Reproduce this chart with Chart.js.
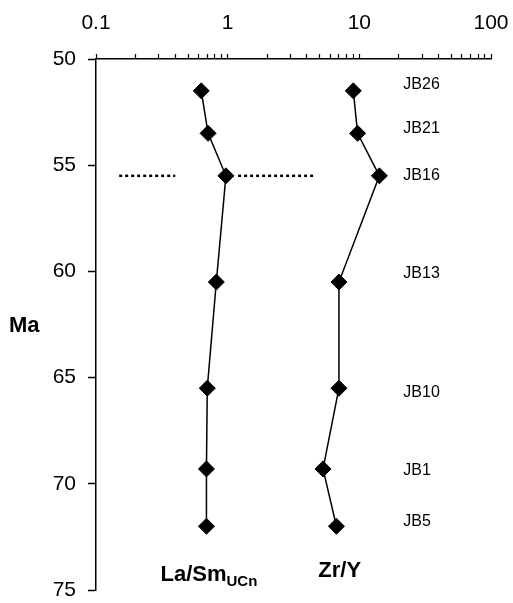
<!DOCTYPE html>
<html>
<head>
<meta charset="utf-8">
<script src="https://cdn.jsdelivr.net/npm/chart.js@4.4.0/dist/chart.umd.min.js"></script>
<style>
  html,body{margin:0;padding:0;background:#fff;}
  #wrap{width:513px;height:603px;}
</style>
</head>
<body>
<div id="wrap"><canvas id="chart" width="513" height="603"></canvas></div>
<script>
// --- Data ---
const samples   = ['JB26','JB21','JB16','JB13','JB10','JB1','JB5'];
const ageMa     = [51.5, 53.5, 55.5, 60.5, 65.5, 69.3, 72.0];
const laSmUCn   = [0.63, 0.71, 0.97, 0.82, 0.70, 0.69, 0.69];
const zrY       = [9.0, 9.7, 14.2, 7.0, 7.0, 5.3, 6.7];
const sampleLabelMa = [51.2, 53.3, 55.5, 60.1, 65.7, 69.4, 71.8];

// dotted boundary marker at ~55.5 Ma
const boundaryMa    = 55.5;
const boundaryLeft  = [0.15, 0.40];
const boundaryRight = [1.2, 4.6];

// log axis ticks
const xTicks = [0.1,0.2,0.3,0.4,0.5,0.6,0.7,0.8,0.9,
                1,2,3,4,5,6,7,8,9,
                10,20,30,40,50,60,70,80,90,100];
const xLabels = [0.1, 1, 10, 100];

const FONT = '"Liberation Sans", Arial, sans-serif';

// --- Helpers ---
const pts = (xs, ys) => xs.map((x, i) => ({ x, y: ys[i] }));
const seg = (xs, y) => xs.map(x => ({ x, y }));

// --- Text overlay (sample names, axis title, series titles) ---
const overlay = {
  id: 'overlay',
  afterDatasetsDraw(chart){
    const { ctx, scales:{ x, y } } = chart;
    ctx.save();
    ctx.fillStyle = '#000';

    // sample names
    ctx.font = `16px ${FONT}`;
    ctx.textAlign = 'left';
    ctx.textBaseline = 'middle';
    const lx = x.getPixelForValue(21.6);
    samples.forEach((s, i) => ctx.fillText(s, lx, y.getPixelForValue(sampleLabelMa[i])));

    // y axis title (horizontal)
    ctx.font = `bold 22px ${FONT}`;
    ctx.textBaseline = 'alphabetic';
    ctx.fillText('Ma', 9, 332);

    // series titles
    const main = 'La/Sm', sub = 'UCn';
    ctx.font = `bold 22px ${FONT}`;
    const w1 = ctx.measureText(main).width;
    ctx.font = `bold 15px ${FONT}`;
    const w2 = ctx.measureText(sub).width;
    let cx = x.getPixelForValue(0.72) - (w1 + w2) / 2;
    ctx.font = `bold 22px ${FONT}`;
    ctx.fillText(main, cx, 581);
    ctx.font = `bold 15px ${FONT}`;
    ctx.fillText(sub, cx + w1, 586);

    ctx.font = `bold 22px ${FONT}`;
    ctx.textAlign = 'center';
    ctx.fillText('Zr/Y', x.getPixelForValue(7.1), 577);
    ctx.restore();
  }
};

const marker = {
  type: 'scatter', showLine: true,
  borderColor: '#000', borderWidth: 1.5,
  pointStyle: 'rectRot', pointRadius: 8, pointHoverRadius: 8,
  pointBackgroundColor: '#000', pointBorderColor: '#000', pointBorderWidth: 1
};
const dotted = {
  type: 'scatter', showLine: true,
  borderColor: '#000', borderWidth: 2.5, borderDash: [3, 3],
  pointRadius: 0, pointHoverRadius: 0
};

new Chart(document.getElementById('chart').getContext('2d'), {
  type: 'scatter',
  data: {
    datasets: [
      { ...marker, label: 'La/SmUCn', data: pts(laSmUCn, ageMa) },
      { ...marker, label: 'Zr/Y', data: pts(zrY, ageMa) },
      { ...dotted, label: 'b1', data: seg(boundaryLeft, boundaryMa) },
      { ...dotted, label: 'b2', data: seg(boundaryRight, boundaryMa) }
    ]
  },
  options: {
    responsive: false,
    animation: false,
    layout: { padding: { left: 0, right: 22, top: 0, bottom: 13 } },
    plugins: { legend: { display: false }, tooltip: { enabled: false } },
    scales: {
      x: {
        type: 'logarithmic', position: 'top',
        min: 0.1, max: 100,
        afterBuildTicks: s => { s.ticks = xTicks.map(v => ({ value: v })); },
        afterFit: s => { s.height = 59; s.paddingLeft = 0; s.paddingRight = 0; },
        ticks: {
          autoSkip: false, maxRotation: 0, padding: 18,
          color: '#000', font: { family: FONT, size: 21 },
          callback: v => xLabels.includes(v) ? String(v) : ''
        },
        grid: { drawOnChartArea: false, drawTicks: true, tickLength: 5, color: '#000', tickWidth: 1.2 },
        border: { display: true, color: '#000', width: 1.5 }
      },
      y: {
        type: 'linear', reverse: true,
        min: 50, max: 75,
        afterFit: s => { s.width = 96; s.paddingTop = 0; s.paddingBottom = 0; },
        ticks: {
          stepSize: 5, padding: 12,
          color: '#000', font: { family: FONT, size: 21 }
        },
        grid: { drawOnChartArea: false, drawTicks: true, tickLength: 8, color: '#000', tickWidth: 1.5 },
        border: { display: true, color: '#000', width: 1.5 }
      }
    }
  },
  plugins: [overlay]
});
</script>
</body>
</html>
